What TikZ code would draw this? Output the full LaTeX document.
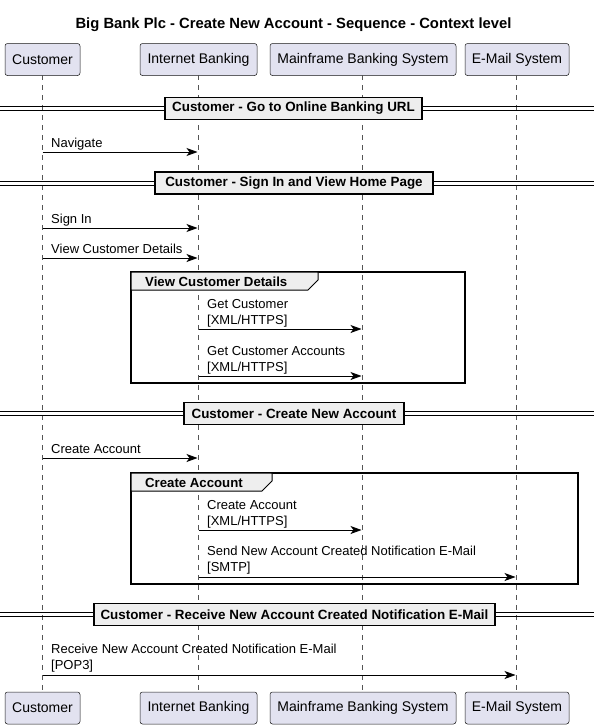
\documentclass[tikz,border=0pt]{standalone}
\usepackage{fontspec}
\setmainfont{Liberation Sans}
\usetikzlibrary{arrows.meta}
\definecolor{partfill}{HTML}{E2E2F0}
\definecolor{partdraw}{HTML}{181818}
\definecolor{divfill}{HTML}{EEEEEE}
\definecolor{lifegray}{HTML}{555555}
\begin{document}
\begin{tikzpicture}[x=1pt,y=-1pt,
  part/.style={draw=partdraw, fill=partfill, rounded corners=2.5pt, line width=0.5pt,
    minimum height=32pt, inner sep=0pt, font=\fontsize{14}{16}\selectfont},
  life/.style={draw=lifegray, dash pattern=on 5pt off 5pt, line width=0.5pt},
  msg/.style={draw=black, line width=0.8pt, -{Stealth[length=11pt,width=8pt,inset=3pt]}},
  lbl/.style={anchor=base west, inner sep=0pt, font=\fontsize{13}{16}\selectfont, align=left},
  divline/.style={draw=black, line width=1pt},
  divbox/.style={draw=black, fill=divfill, line width=1.6pt, inner sep=0pt,
    minimum height=22pt, font=\bfseries\fontsize{13.4}{15}\selectfont},
  gframe/.style={draw=black, line width=1.5pt},
  gtab/.style={draw=black, fill=divfill, line width=1pt},
  glbl/.style={anchor=west, inner sep=0pt, font=\bfseries\fontsize{13.2}{15}\selectfont},
  title/.style={inner sep=0pt, font=\bfseries\fontsize{14.8}{17}\selectfont}
]
\useasboundingbox (0,0) rectangle (594,728);
\fill[white] (0,0) rectangle (594,728);

\node[title] (ttl) at (293.5,25) {Big Bank Plc - Create New Account - Sequence - Context level};

% lifelines
\coordinate (cT) at (42.5,75);  \coordinate (cB) at (42.5,692);
\coordinate (iT) at (198.5,75); \coordinate (iB) at (198.5,692);
\coordinate (mT) at (362.5,75); \coordinate (mB) at (362.5,692);
\coordinate (eT) at (516.5,75); \coordinate (eB) at (516.5,692);
\draw[life] (cT) -- (cB);
\draw[life] (iT) -- (iB);
\draw[life] (mT) -- (mB);
\draw[life] (eT) -- (eB);

% participants top
\node[part, minimum width=75pt] (cust) at (42.5,59.5) {Customer};
\node[part, minimum width=117pt] (ib) at (198.5,59.5) {Internet Banking};
\node[part, minimum width=186pt] (mf) at (363,59.5) {Mainframe Banking System};
\node[part, minimum width=104pt] (em) at (517,59.5) {E-Mail System};
% participants bottom
\node[part, minimum width=75pt] (cust2) at (42.5,708) {Customer};
\node[part, minimum width=117pt] (ib2) at (198.5,708) {Internet Banking};
\node[part, minimum width=186pt] (mf2) at (363,708) {Mainframe Banking System};
\node[part, minimum width=104pt] (em2) at (517,708) {E-Mail System};

% divider 1
\coordinate (d1l) at (0,106.5); \coordinate (d1r) at (594,106.5);
\coordinate (d1l2) at (0,110.5); \coordinate (d1r2) at (594,110.5);
\draw[divline] (d1l) -- (d1r); \draw[divline] (d1l2) -- (d1r2);
\node[divbox, minimum width=257pt] (div1) at (293.5,108.5) {Customer - Go to Online Banking URL};

% Navigate
\coordinate (m1a) at (42.5,152); \coordinate (m1b) at (197.5,152);
\draw[msg] (m1a) -- (m1b);
\node[lbl] (l1) at (51,147.5) {Navigate};

% divider 2
\coordinate (d2l) at (0,181); \coordinate (d2r) at (594,181);
\coordinate (d2l2) at (0,185); \coordinate (d2r2) at (594,185);
\draw[divline] (d2l) -- (d2r); \draw[divline] (d2l2) -- (d2r2);
\node[divbox, minimum width=278pt] (div2) at (294,183) {Customer - Sign In and View Home Page};

% Sign In
\coordinate (m2a) at (42.5,228); \coordinate (m2b) at (197.5,228);
\draw[msg] (m2a) -- (m2b);
\node[lbl] (l2) at (51,223) {Sign In};
% View Customer Details
\coordinate (m3a) at (42.5,258); \coordinate (m3b) at (197.5,258);
\draw[msg] (m3a) -- (m3b);
\node[lbl] (l3) at (51,253) {View Customer Details};

% group 1
\draw[gframe] (131,272) rectangle (465,383);
\filldraw[gtab] (131,272) -- (318,272) -- (318,280) -- (308,290) -- (131,290) -- cycle;
\node[glbl] (g1) at (145,281.5) {View Customer Details};

\coordinate (m4a) at (198.5,329); \coordinate (m4b) at (361.5,329);
\draw[msg] (m4a) -- (m4b);
\node[lbl] (l4) at (207,324.5) {Get Customer\\{}[XML/HTTPS]};

\coordinate (m5a) at (198.5,376); \coordinate (m5b) at (361.5,376);
\draw[msg] (m5a) -- (m5b);
\node[lbl] (l5) at (207,371.5) {Get Customer Accounts\\{}[XML/HTTPS]};

% divider 3
\coordinate (d3l) at (0,411.5); \coordinate (d3r) at (594,411.5);
\coordinate (d3l2) at (0,415.5); \coordinate (d3r2) at (594,415.5);
\draw[divline] (d3l) -- (d3r); \draw[divline] (d3l2) -- (d3r2);
\node[divbox, minimum width=220pt] (div3) at (294,413.5) {Customer - Create New Account};

% Create Account
\coordinate (m6a) at (42.5,458); \coordinate (m6b) at (197.5,458);
\draw[msg] (m6a) -- (m6b);
\node[lbl] (l6) at (51,453.5) {Create Account};

% group 2
\draw[gframe] (131,473) rectangle (578,584);
\filldraw[gtab] (131,473) -- (272,473) -- (272,481) -- (262,491) -- (131,491) -- cycle;
\node[glbl] (g2) at (145,482.5) {Create Account};

\coordinate (m7a) at (198.5,530); \coordinate (m7b) at (361.5,530);
\draw[msg] (m7a) -- (m7b);
\node[lbl] (l7) at (207,525.5) {Create Account\\{}[XML/HTTPS]};

\coordinate (m8a) at (198.5,577); \coordinate (m8b) at (515.5,577);
\draw[msg] (m8a) -- (m8b);
\node[lbl] (l8) at (207,571.5) {Send New Account Created Notification E-Mail\\{}[SMTP]};

% divider 4
\coordinate (d4l) at (0,612); \coordinate (d4r) at (594,612);
\coordinate (d4l2) at (0,616); \coordinate (d4r2) at (594,616);
\draw[divline] (d4l) -- (d4r); \draw[divline] (d4l2) -- (d4r2);
\node[divbox, minimum width=401pt] (div4) at (294.5,614.5) {Customer - Receive New Account Created Notification E-Mail};

% Receive
\coordinate (m9a) at (42.5,675); \coordinate (m9b) at (515.5,675);
\draw[msg] (m9a) -- (m9b);
\node[lbl] (l9) at (51,669.5) {Receive New Account Created Notification E-Mail\\{}[POP3]};
\end{tikzpicture}
\end{document}
